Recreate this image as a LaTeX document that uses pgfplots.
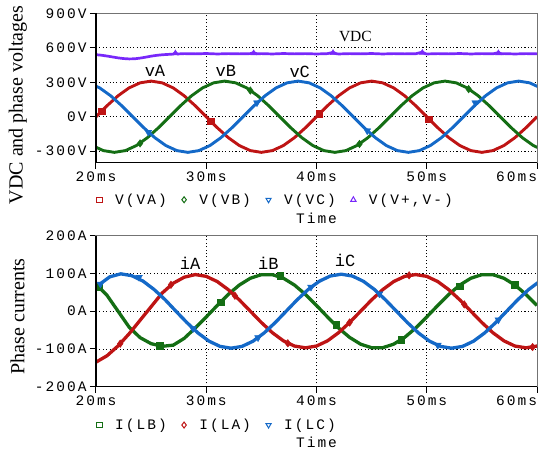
\documentclass[border=0pt]{standalone}
\usepackage{fontspec}
\setmainfont{Liberation Serif}
\newfontfamily\monof{Liberation Mono}[LetterSpace=14]
\newfontfamily\monon{Liberation Mono}
\usepackage{pgfplots}
\pgfplotsset{compat=1.18}
\definecolor{cred}{RGB}{190,20,20}
\definecolor{cgreen}{RGB}{20,110,20}
\definecolor{cblue}{RGB}{20,105,200}
\definecolor{cpurp}{RGB}{120,40,250}
\newcommand{\tickfont}{\monof\fontsize{14.5}{17}\selectfont}
\pgfplotsset{
  common/.style={
    scale only axis, width=441pt,
    xmin=20, xmax=60,
    xtick={20,30,40,50,60},
    xticklabels={20ms,30ms,40ms,50ms,\llap{60ms}},
    tick pos=left, tick align=outside,
    major tick length=6pt,
    tick style={black, line width=1pt},
    grid=major,
    major grid style={black, line width=0.9pt, dash pattern=on 1.1pt off 2.3pt},
    axis line style={black!55, line width=1pt},
    ticklabel style={font=\tickfont},
    clip mode=individual,
    legend columns=4,
    legend image code/.code={\draw[##1] plot coordinates {(0pt,0pt)};},
    legend style={draw=none, fill=none, font=\tickfont, anchor=west,
      /tikz/every odd column/.append style={column sep=11pt},
      /tikz/every even column/.append style={column sep=13pt}},
    xlabel={Time},
    xlabel style={font=\tickfont, anchor=center},
    ylabel style={font=\fontsize{20}{22}\selectfont, anchor=center},
  }
}
\begin{document}
\begin{tikzpicture}
\useasboundingbox (-96pt,-291.3pt) rectangle (442pt,162.7pt);
\begin{axis}[common, name=top, at={(0pt,0pt)}, anchor=south west,
  height=149.4pt, ymin=-400, ymax=900,
  ytick={-300,0,300,600,900}, yticklabels={-300V,0V,300V,600V,900V},
  ylabel={VDC and phase voltages},
  ylabel style={at={(axis description cs:-0.177,0.386)}},
  xlabel style={at={(axis description cs:0.5,-0.37)}},
  legend style={at={(axis description cs:-0.005,-0.248)}},
]
\addplot[cred, line width=2.9pt, forget plot] table {
20 0
21 95.8
22 182.2
23 250.8
24 294.8
25 310
26 294.8
27 250.8
28 182.2
29 95.8
30 0
31 -95.8
32 -182.2
33 -250.8
34 -294.8
35 -310
36 -294.8
37 -250.8
38 -182.2
39 -95.8
40 0
41 95.8
42 182.2
43 250.8
44 294.8
45 310
46 294.8
47 250.8
48 182.2
49 95.8
50 0
51 -95.8
52 -182.2
53 -250.8
54 -294.8
55 -310
56 -294.8
57 -250.8
58 -182.2
59 -95.8
60 0
};
\addplot[cgreen, line width=2.9pt, forget plot] table {
19.667 -250.8
20.667 -294.8
21.667 -310
22.667 -294.8
23.667 -250.8
24.667 -182.2
25.667 -95.8
26.667 0
27.667 95.8
28.667 182.2
29.667 250.8
30.667 294.8
31.667 310
32.667 294.8
33.667 250.8
34.667 182.2
35.667 95.8
36.667 0
37.667 -95.8
38.667 -182.2
39.667 -250.8
40.667 -294.8
41.667 -310
42.667 -294.8
43.667 -250.8
44.667 -182.2
45.667 -95.8
46.667 0
47.667 95.8
48.667 182.2
49.667 250.8
50.667 294.8
51.667 310
52.667 294.8
53.667 250.8
54.667 182.2
55.667 95.8
56.667 0
57.667 -95.8
58.667 -182.2
59.667 -250.8
60.667 -294.8
};
\addplot[cblue, line width=2.9pt, forget plot] table {
19.333 294.8
20.333 250.8
21.333 182.2
22.333 95.8
23.333 0
24.333 -95.8
25.333 -182.2
26.333 -250.8
27.333 -294.8
28.333 -310
29.333 -294.8
30.333 -250.8
31.333 -182.2
32.333 -95.8
33.333 0
34.333 95.8
35.333 182.2
36.333 250.8
37.333 294.8
38.333 310
39.333 294.8
40.333 250.8
41.333 182.2
42.333 95.8
43.333 0
44.333 -95.8
45.333 -182.2
46.333 -250.8
47.333 -294.8
48.333 -310
49.333 -294.8
50.333 -250.8
51.333 -182.2
52.333 -95.8
53.333 0
54.333 95.8
55.333 182.2
56.333 250.8
57.333 294.8
58.333 310
59.333 294.8
60.333 250.8
};
\addplot[cpurp, line width=2.7pt, forget plot] table {
20 540
20.5 535
21 528
21.5 520
22 512
22.5 506
23 503
23.5 504
24 510
24.5 518
25 527
25.5 534
26 539
26.5 542
27 545
27.2 556
27.4 546
28 549
29 547
30 550
31 546
32 549
33 547
34 549
34.3 558
34.6 547
35 549
36 546
37 550
38 547
39 549
40 546
41 549
41.5 560
41.8 548
42 546
43 549
44 547
45 550
46 546
47 549
48 547
49 548
49.6 562
49.9 548
50 546
51 549
52 547
53 550
54 546
55 549
56 547
56.5 558
56.8 547
57 549
58 546
59 549
60 547
};
% markers on the traces
\addplot[only marks, mark=square*, mark size=3.3pt, cred, forget plot] coordinates {(20.5,48) (30.4,-40) (40.25,25) (50.2,-20)};
\addplot[only marks, mark=diamond*, mark size=3.8pt, cgreen, forget plot] coordinates {(24,-232) (34,228) (43.9,-237) (53.8,240)};
\addplot[only marks, mark=triangle*, mark size=4pt, mark options={rotate=180}, cblue, forget plot] coordinates {(24.75,-135) (34.6,122) (44.6,-122) (54.4,122)};
\addplot[only marks, mark=triangle*, mark size=3.4pt, cpurp, forget plot] coordinates {(27.2,552) (34.3,553) (41.5,555) (49.6,556) (56.5,553)};
\addlegendimage{only marks, mark=square, mark size=2.6pt, cred, line width=1pt}
\addlegendentry{V(VA)}
\addlegendimage{only marks, mark=diamond, mark size=3pt, cgreen, line width=1pt}
\addlegendentry{V(VB)}
\addlegendimage{only marks, mark=triangle, mark size=3pt, mark options={rotate=180}, cblue, line width=1pt}
\addlegendentry{V(VC)}
\addlegendimage{only marks, mark=triangle, mark size=3pt, cpurp, line width=1pt}
\addlegendentry{V(V+,V-)}
\draw[black, line width=1.4pt] (rel axis cs:0,1) -- (rel axis cs:0,0) -- (rel axis cs:1,0);
\node[font=\monon\fontsize{17}{19}\selectfont] at (axis cs:25.35,398) {vA};
\node[font=\monon\fontsize{17}{19}\selectfont] at (axis cs:31.77,395) {vB};
\node[font=\monon\fontsize{17}{19}\selectfont] at (axis cs:38.48,393) {vC};
\node[font=\fontsize{15.5}{17}\selectfont] at (axis cs:43.53,695) {VDC};
\end{axis}
\begin{axis}[common, name=bot, at={(0pt,-224pt)}, anchor=south west,
  height=151pt, ymin=-200, ymax=200,
  ytick={-200,-100,0,100,200}, yticklabels={-200A,-100A,0A,100A,200A},
  ylabel={Phase currents},
  ylabel style={at={(axis description cs:-0.178,0.465)}},
  xlabel style={at={(axis description cs:0.5,-0.366)}},
  legend style={at={(axis description cs:-0.005,-0.254)}},
]
\addplot[cgreen, line width=3.3pt, forget plot] table {
20 72
21 42
22 0
23 -42
24 -70
25 -86
26 -93
27 -90
28 -72
29 -44.5
30 -15.3
31 15.3
32 44.5
33 69.3
34 87.3
35 96.8
36 96.8
37 87.3
38 69.3
39 44.5
40 15.3
41 -15.3
42 -44.5
43 -69.3
44 -87.3
45 -96.8
46 -96.8
47 -87.3
48 -69.3
49 -44.5
50 -15.3
51 15.3
52 44.5
53 69.3
54 87.3
55 96.8
56 96.8
57 87.3
58 69.3
59 44.5
60 15.3
};
\addplot[cred, line width=3.3pt, forget plot] table {
20 -135
21 -118
22 -92
23 -60
24 -24
25 12
26 48
27 74
28 90
29 97
30 92.3
31 78.5
32 57
33 30
34 0
35 -30
36 -57
37 -78.5
38 -92.3
39 -97
40 -92.3
41 -78.5
42 -57
43 -30
44 0
45 30
46 57
47 78.5
48 92.3
49 97
50 92.3
51 78.5
52 57
53 30
54 0
55 -30
56 -57
57 -78.5
58 -92.3
59 -97
60 -92.3
};
\addplot[cblue, line width=3.3pt, forget plot] table {
20 59
20.5 75
21.25 91
22.25 99
23.25 94
24.25 80
25.25 58
26.25 31
27.25 0
28.25 -30.3
29.25 -57.6
30.25 -79.3
31.25 -93.2
32.25 -98
33.25 -93.2
34.25 -79.3
35.25 -57.6
36.25 -30.3
37.25 0
38.25 30.3
39.25 57.6
40.25 79.3
41.25 93.2
42.25 98
43.25 93.2
44.25 79.3
45.25 57.6
46.25 30.3
47.25 0
48.25 -30.3
49.25 -57.6
50.25 -79.3
51.25 -93.2
52.25 -98
53.25 -93.2
54.25 -79.3
55.25 -57.6
56.25 -30.3
57.25 0
58.25 30.3
59.25 57.6
60.25 79.3
};
\addplot[only marks, mark=square*, mark size=3.3pt, cgreen, forget plot] coordinates {(20.3,64) (25.8,-92) (31.3,24) (36.7,94) (41.8,-36) (47.7,-76) (53,66) (58,70)};
\addplot[only marks, mark=diamond*, mark size=3.8pt, cred, forget plot] coordinates {(22.2,-86) (26.8,70) (32.6,41) (37.4,-85) (43,-30) (48.4,95) (53.4,18) (59.6,-95)};
\addplot[only marks, mark=triangle*, mark size=4pt, mark options={rotate=180}, cblue, forget plot] coordinates {(20.4,72) (23.9,90) (28.8,-46) (34.7,-70) (39.5,64) (45.7,46) (51,-90) (56.5,-23)};
\addlegendimage{only marks, mark=square, mark size=2.6pt, cgreen, line width=1pt}
\addlegendentry{I(LB)}
\addlegendimage{only marks, mark=diamond, mark size=3pt, cred, line width=1pt}
\addlegendentry{I(LA)}
\addlegendimage{only marks, mark=triangle, mark size=3pt, mark options={rotate=180}, cblue, line width=1pt}
\addlegendentry{I(LC)}
\draw[black, line width=1.4pt] (rel axis cs:0,1) -- (rel axis cs:0,0) -- (rel axis cs:1,0);
\node[font=\monon\fontsize{17}{19}\selectfont] at (axis cs:28.53,127) {iA};
\node[font=\monon\fontsize{17}{19}\selectfont] at (axis cs:35.64,127) {iB};
\node[font=\monon\fontsize{17}{19}\selectfont] at (axis cs:42.6,135) {iC};
\end{axis}
\end{tikzpicture}
\end{document}
